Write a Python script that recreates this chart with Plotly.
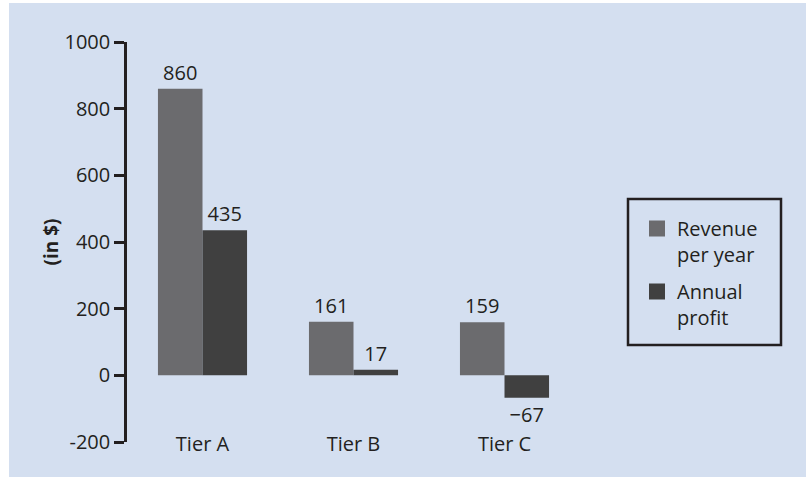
import plotly.graph_objects as go

categories = ["Tier A", "Tier B", "Tier C"]
revenue = [860, 161, 159]
profit = [435, 17, -67]
series_names = ["Revenue<br>per year", "Annual<br>profit"]
series_colors = ["#6b6b6e", "#404040"]
y_ticks = [-200, 0, 200, 400, 600, 800, 1000]
y_ticktext = ["-200", "0", "200", "400", "600", "800", "1000"]
boundaries = [0.5, 1.5, 2.5]

def fmt(v):
    return ("\u2212" + str(abs(v))) if v < 0 else str(v)

BG = "#d4dff0"
INK = "#231f20"
FONT = "Open Sans"

fig = go.Figure()
for vals, name, col in [(revenue, series_names[0], series_colors[0]),
                        (profit, series_names[1], series_colors[1])]:
    fig.add_trace(go.Bar(
        x=categories, y=vals, name=name, legendgroup=name, showlegend=False,
        marker=dict(color=col, line=dict(width=0)),
        text=[fmt(v) for v in vals], textposition="outside",
        textfont=dict(size=20, color=INK, family=FONT),
        constraintext="none", cliponaxis=False,
    ))
# legend entries (larger square swatches)
for name, col in zip(series_names, series_colors):
    fig.add_trace(go.Scatter(
        x=[None], y=[None], mode="markers", name=name, legendgroup=name,
        marker=dict(symbol="square", size=16, color=col),
        hoverinfo="skip",
    ))

L, R, T, B = 127, 226, 42, 35
W, H = 806, 477
pw, ph = W - L - R, H - T - B

def px_x(p):
    return (p - L) / pw

def px_y(p):
    return (H - B - p) / ph

fig.update_layout(
    width=W, height=H,
    margin=dict(l=L, r=R, t=T, b=B, autoexpand=False),
    paper_bgcolor=BG, plot_bgcolor=BG,
    font=dict(family=FONT, size=20, color=INK),
    barmode="group", bargap=0.41, bargroupgap=0,
    showlegend=True,
    legend=dict(
        x=px_x(637), y=px_y(209), xanchor="left", yanchor="top",
        borderwidth=0, bgcolor="rgba(0,0,0,0)",
        font=dict(size=20, family=FONT, color=INK),
        tracegroupgap=8, itemwidth=30, valign="top",
    ),
    xaxis=dict(
        type="category", range=[-0.5, 2.5], anchor="free", position=0.03,
        showline=False, ticks="", showgrid=False, zeroline=False,
        tickfont=dict(size=20, color=INK),
    ),
    xaxis2=dict(
        overlaying="x", anchor="free", position=200 / 1200,
        type="linear", range=[-0.5, 2.5],
        showline=True, linecolor=INK, linewidth=2.5,
        ticks="outside", ticklen=10, tickwidth=2.5, tickcolor=INK,
        tickvals=boundaries, showticklabels=False, showgrid=False, zeroline=False,
    ),
    yaxis=dict(
        range=[-200, 1000], anchor="x",
        tickvals=y_ticks, ticktext=y_ticktext,
        showline=True, linecolor=INK, linewidth=2.5,
        ticks="outside", ticklen=10, tickwidth=2.5, tickcolor=INK,
        showgrid=False, zeroline=False,
        tickfont=dict(size=20, color=INK),
        title=dict(text="<b>(in $)</b>", font=dict(size=19, color=INK), standoff=1),
    ),
    shapes=[
        # white strips at top and left edge of the figure
        dict(type="rect", xref="paper", yref="paper", layer="below",
             x0=px_x(-5), x1=px_x(9), y0=px_y(H + 5), y1=px_y(-5),
             fillcolor="white", line=dict(width=0)),
        dict(type="rect", xref="paper", yref="paper", layer="below",
             x0=px_x(-5), x1=px_x(W + 5), y0=px_y(3), y1=px_y(-5),
             fillcolor="white", line=dict(width=0)),
        # legend frame
        dict(type="rect", xref="paper", yref="paper", layer="below",
             x0=px_x(628), x1=px_x(781), y0=px_y(345), y1=px_y(199),
             fillcolor="rgba(0,0,0,0)", line=dict(color=INK, width=2.5)),
    ],
)

fig.write_html(
    "out.html", config={"displayModeBar": False},
    post_script="document.body.style.margin='0';"
                "document.body.style.background='" + BG + "';",
)
